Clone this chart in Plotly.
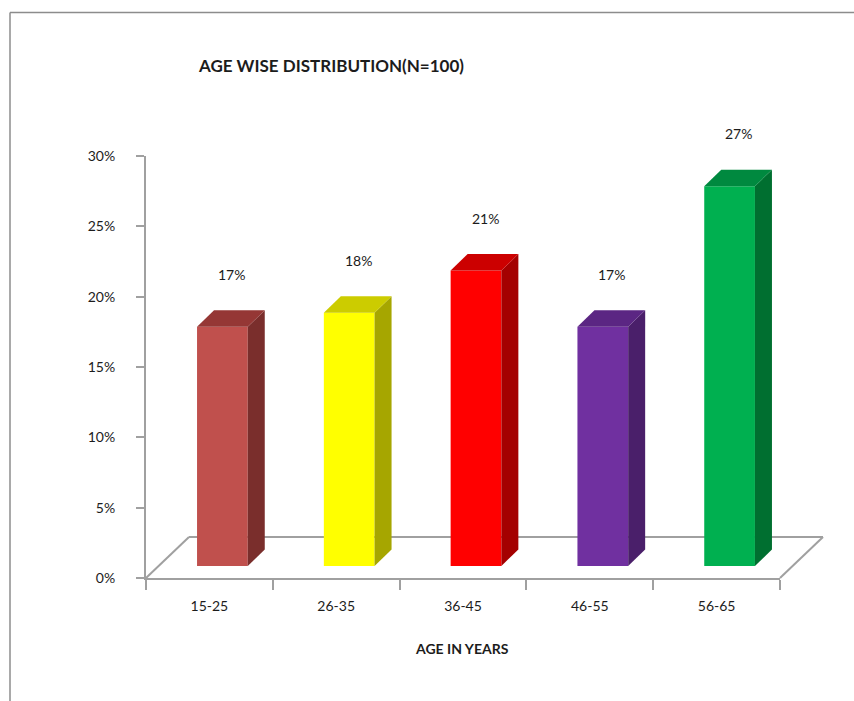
import plotly.graph_objects as go

# ---- data -------------------------------------------------------------
age_groups = ["15-25", "26-35", "36-45", "46-55", "56-65"]
percentages = [17, 18, 21, 17, 27]
y_ticks = [0, 5, 10, 15, 20, 25, 30]
y_tick_labels = [f"{t}%" for t in y_ticks]

front_colors = ["#C0504D", "#FFFF00", "#FF0000", "#7030A0", "#00B050"]
top_colors = ["#953735", "#CCCC00", "#CC0000", "#5B2683", "#00893F"]
side_colors = ["#7A2E2C", "#A6A600", "#A40000", "#4A1F6A", "#006F30"]

# ---- geometry (pixels) ------------------------------------------------
W, H = 854, 701
PL, PR, PT, PB = 146, 780, 156, 578          # plot area edges
N = len(age_groups)
Y_MAX = 30
CAT_PX = (PR - PL) / N                        # pixels per category
Y_PX = (PB - PT) / Y_MAX                      # pixels per percent

BAR_W = 0.4                                   # bar width in category units
BAR_SHIFT_X, BAR_SHIFT_Y = 13, 12             # bars sit inside the floor depth
DEPTH_X, DEPTH_Y = 17, 16.5                   # 3-D depth of each bar
FLOOR_X, FLOOR_Y = 43, 41                     # depth of the floor

dx = DEPTH_X / CAT_PX
dy = DEPTH_Y / Y_PX


def px_to_paper_x(px):
    return (px - PL) / (PR - PL)


def px_to_paper_y(py):
    return (PB - py) / (PB - PT)


LINE = "#A0A0A0"
TEXT = "#1c1c1c"
FONT = "Lato"

fig = go.Figure()

# front faces
idx = list(range(N))
fig.add_trace(go.Bar(
    x=idx, y=percentages, width=BAR_W,
    marker=dict(color=front_colors, line=dict(width=0)),
    xaxis="x2", yaxis="y2", showlegend=False, hoverinfo="skip",
))

# side and top faces
for i, v in enumerate(percentages):
    xl, xr = i - BAR_W / 2, i + BAR_W / 2
    fig.add_trace(go.Scatter(
        x=[xr, xr + dx, xr + dx, xr, xr],
        y=[0, dy, v + dy, v, 0],
        fill="toself", fillcolor=side_colors[i], mode="none",
        xaxis="x2", yaxis="y2", showlegend=False, hoverinfo="skip",
    ))
    fig.add_trace(go.Scatter(
        x=[xl, xl + dx, xr + dx, xr, xl],
        y=[v, v + dy, v + dy, v, v],
        fill="toself", fillcolor=top_colors[i], mode="none",
        xaxis="x2", yaxis="y2", showlegend=False, hoverinfo="skip",
    ))

# category axis carrying the labels (invisible trace keeps categories in order)
fig.add_trace(go.Scatter(x=age_groups, y=[None] * N, mode="markers",
                         showlegend=False, hoverinfo="skip"))

# value labels
annotations = []
for i, v in enumerate(percentages):
    annotations.append(dict(
        x=i, y=v + dy, xref="x2", yref="y2", text=f"{v}%",
        showarrow=False, xshift=9, yshift=36,
        xanchor="center", yanchor="middle",
        font=dict(family=FONT, size=14, color=TEXT),
    ))

annotations.append(dict(
    x=px_to_paper_x(331), y=px_to_paper_y(66), xref="paper", yref="paper",
    xanchor="center", yanchor="middle",
    text="<b>AGE WISE DISTRIBUTION(N=100)</b>", showarrow=False,
    font=dict(family=FONT, size=17, color=TEXT),
))
annotations.append(dict(
    x=px_to_paper_x(462), y=px_to_paper_y(648), xref="paper", yref="paper",
    xanchor="center", yanchor="middle",
    text="<b>AGE IN YEARS</b>", showarrow=False,
    font=dict(family=FONT, size=14, color=TEXT),
))

# floor outline and chart border
shapes = [
    dict(type="line", xref="paper", yref="paper", layer="below",
         x0=0, y0=0, x1=px_to_paper_x(PL + FLOOR_X), y1=px_to_paper_y(PB - FLOOR_Y),
         line=dict(color=LINE, width=2)),
    dict(type="line", xref="paper", yref="paper", layer="below",
         x0=px_to_paper_x(PL + FLOOR_X), y0=px_to_paper_y(PB - FLOOR_Y),
         x1=px_to_paper_x(PR + FLOOR_X), y1=px_to_paper_y(PB - FLOOR_Y),
         line=dict(color=LINE, width=2)),
    dict(type="line", xref="paper", yref="paper", layer="below",
         x0=1, y0=0, x1=px_to_paper_x(PR + FLOOR_X), y1=px_to_paper_y(PB - FLOOR_Y),
         line=dict(color=LINE, width=2)),
    dict(type="line", xref="paper", yref="paper",
         x0=px_to_paper_x(10), y0=px_to_paper_y(12.5),
         x1=px_to_paper_x(W + 2), y1=px_to_paper_y(12.5),
         line=dict(color="#8C8C8C", width=1.5)),
    dict(type="line", xref="paper", yref="paper",
         x0=px_to_paper_x(10), y0=px_to_paper_y(12.5),
         x1=px_to_paper_x(10), y1=px_to_paper_y(H + 2),
         line=dict(color="#8C8C8C", width=1.5)),
]

x_shift = BAR_SHIFT_X / CAT_PX
y_shift = BAR_SHIFT_Y / Y_PX

fig.update_layout(
    width=W, height=H,
    margin=dict(l=PL, r=W - PR, t=PT, b=H - PB, pad=0),
    paper_bgcolor="white", plot_bgcolor="white",
    showlegend=False,
    xaxis=dict(
        type="category", categoryorder="array", categoryarray=age_groups,
        range=[-0.5, N - 0.5], tickson="boundaries",
        ticks="outside", ticklen=10, tickwidth=2, tickcolor=LINE,
        showline=True, linecolor=LINE, linewidth=2, showgrid=False,
        zeroline=False, ticklabelstandoff=14,
        tickfont=dict(family=FONT, size=14, color=TEXT),
    ),
    yaxis=dict(
        range=[0, Y_MAX], tickmode="array", tickvals=y_ticks,
        ticktext=y_tick_labels,
        ticks="outside", ticklen=8, tickwidth=2, tickcolor=LINE,
        showline=True, linecolor=LINE, linewidth=2, showgrid=False,
        zeroline=False, ticklabelstandoff=18,
        tickfont=dict(family=FONT, size=14, color=TEXT),
    ),
    xaxis2=dict(overlaying="x", anchor="y2", visible=False,
                range=[-0.5 - x_shift, N - 0.5 - x_shift]),
    yaxis2=dict(overlaying="y", anchor="x2", visible=False,
                range=[-y_shift, Y_MAX - y_shift]),
    annotations=annotations,
    shapes=shapes,
)

fig.write_html("out.html")
